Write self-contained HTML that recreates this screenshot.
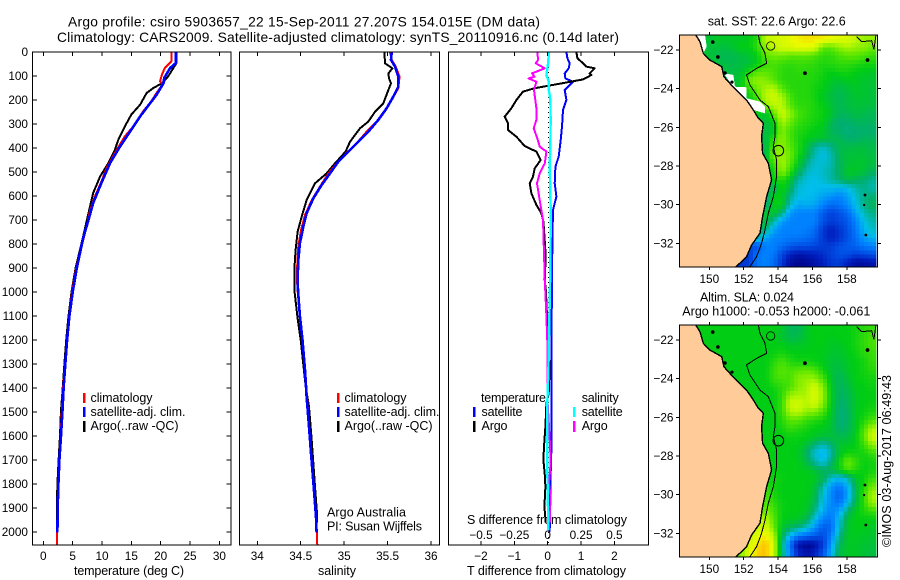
<!DOCTYPE html>
<html lang="en">
<head>
<meta charset="utf-8">
<title>Argo profile chart</title>
<style>
html,body{margin:0;padding:0;background:#fff;}
svg{display:block;}
text{font-family:"Liberation Sans",sans-serif;font-size:12.5px;fill:#000;}
.tick{font-size:11.8px;}
</style>
</head>
<body>
<svg id="chart" width="900" height="580" viewBox="0 0 900 580" xmlns="http://www.w3.org/2000/svg">
<rect width="900" height="580" fill="#fff"/>
<text x="68" y="26.5" style="font-size:13.8px" textLength="472">Argo profile: csiro 5903657_22 15-Sep-2011 27.207S 154.015E (DM data)</text>
<text x="57" y="42" style="font-size:13.8px" textLength="562">Climatology: CARS2009. Satellite-adjusted climatology: synTS_20110916.nc (0.14d later)</text>
<text x="74" y="575" textLength="110">temperature (deg C)</text>
<text x="318" y="575" textLength="38">salinity</text>
<text x="467" y="575" textLength="159">T difference from climatology</text>
<text x="467" y="524" textLength="160">S difference from climatology</text>
<text x="327" y="516.5" textLength="79">Argo Australia</text>
<text x="327" y="530.5" textLength="95">PI: Susan Wijffels</text>
<text x="707.7" y="25.5" textLength="138">sat. SST: 22.6 Argo: 22.6</text>
<text x="700" y="301.5" textLength="94">Altim. SLA: 0.024</text>
<text x="682.3" y="315.5" textLength="188">Argo h1000: -0.053 h2000: -0.061</text>
<text transform="translate(891 547) rotate(-90)" x="0" y="0" textLength="172">©IMOS 03-Aug-2017 06:49:43</text>
<g id="layer"></g>
</svg>
<script>
// ---------- Profile data ----------
const tempClimDepth = [0,39,67,94,122,136,171,212,247,303,351,421,483,539,601,657,754,900,1000,1100,1200,1300,1400,1500,1600,1700,1800,1900,2000,2055];
const tempClimValue = [21.8,21.8,20.7,20.2,19.9,20.3,19.3,18.2,17,15.6,13.9,12.2,10.8,9.9,8.8,8,7.1,5.6,4.9,4.4,4,3.7,3.35,3.15,2.95,2.7,2.55,2.45,2.35,2.3];
const tempSatDepth = [0,46,67,108,129,178,233,268,331,393,462,546,629,699,775,900,1000,1100,1200,1300,1400,1500,1600,1700,1800,1900,2003];
const tempSatValue = [22.6,22.6,21.6,20.6,20.5,19.3,17.6,16.5,14.8,13.1,11.4,9.9,8.5,7.7,6.8,5.7,5,4.45,4.05,3.75,3.45,3.25,3.02,2.75,2.58,2.45,2.4];
const tempArgoDepth = [0,46,101,129,150,171,219,261,310,365,407,462,518,587,671,768,900,1000,1100,1200,1300,1400,1500,1600,1700,1800,1900,1960];
const tempArgoValue = [22.7,22.7,21.3,20.3,18.75,17.6,16.5,15,13.9,12.8,12.2,11.1,9.7,8.5,7.7,6.8,5.5,4.8,4.3,3.9,3.6,3.3,3,2.85,2.6,2.4,2.3,2.3];

const salClimDepth = [0,33,61,103,151,200,242,290,332,388,419,464,506,561,617,679,742,811,874,950,1000,1100,1200,1325,1436,1561,1672,1811,1936,2055];
const salClimValue = [35.528,35.547,35.593,35.639,35.624,35.547,35.47,35.374,35.259,35.125,35.029,34.914,34.818,34.722,34.626,34.549,34.503,34.472,34.461,34.457,34.465,34.49,34.52,34.553,34.572,34.598,34.622,34.652,34.678,34.691];
const salSatDepth = [0,33,61,103,144,186,235,283,332,381,422,457,506,554,610,672,728,797,867,950,1000,1100,1200,1325,1436,1561,1672,1811,1936,2003];
const salSatValue = [35.547,35.54,35.586,35.624,35.624,35.566,35.489,35.393,35.278,35.144,35.029,34.933,34.837,34.741,34.645,34.568,34.53,34.491,34.472,34.464,34.47,34.49,34.52,34.549,34.568,34.595,34.618,34.649,34.676,34.683];
const salArgoDepth = [0,47,68,89,110,131,158,214,249,290,318,374,415,464,506,547,617,686,749,825,908,1000,1100,1200,1325,1394,1478,1617,1811,1922,1960];
const salArgoValue = [35.463,35.47,35.555,35.509,35.516,35.539,35.509,35.451,35.355,35.278,35.182,35.067,35.017,34.894,34.798,34.664,34.568,34.511,34.464,34.441,34.426,34.43,34.46,34.5,34.537,34.557,34.595,34.626,34.664,34.687,34.69];

const diffTempSatDepth = [0,26,47,68,89,110,124,138,158,200,242,311,367,436,478,547,603,658,783,950,1100,1325,1464,1651,1800,2000];
const diffTempSatValue = [0.56,0.59,0.66,0.63,0.51,0.53,0.76,0.66,0.51,0.56,0.46,0.43,0.39,0.33,0.23,0.21,0.26,0.16,0.14,0.13,0.12,0.11,0.11,0.11,0.08,0.06];
const diffTempArgoDepth = [0,26,47,61,68,89,96,114,131,151,165,200,235,269,297,325,353,392,415,450,485,519,547,589,637,672,707,783,853,950,1000,1100,1200,1325,1422,1464,1561,1644,1700,1756,1811,1894,1960];
const diffTempArgoValue = [0.86,0.89,1.06,1.16,1.41,1.26,1.31,1.06,0.41,-0.39,-0.74,-0.94,-1.09,-1.29,-1.19,-1.19,-0.94,-0.69,-0.34,-0.21,-0.39,-0.44,-0.54,-0.49,-0.34,-0.19,-0.13,-0.09,-0.06,-0.09,-0.05,-0.02,0.02,0.06,0.03,-0.04,-0.07,-0.11,-0.13,-0.09,-0.07,-0.1,-0.06];
const diffSalArgoDepth = [0,33,47,68,89,103,110,124,158,200,235,283,318,360,394,415,464,506,547,617,700,839,950,1100,1250,1464,1644,1714,1797,1853,1908,1960];
const diffSalArgoValue = [-0.078,-0.072,-0.09,-0.022,-0.118,-0.098,-0.143,-0.085,-0.103,-0.093,-0.085,-0.085,-0.105,-0.078,-0.06,-0.01,-0.022,-0.06,-0.08,-0.06,-0.035,-0.028,-0.022,-0.01,0,0,0.018,0.022,0.01,0.022,0.018,0.018];
const diffSalSatDepth = [0,47,96,124,158,200,283,394,464,547,644,756,950,1325,1464,1742,1992];
const diffSalSatValue = [0.01,0.003,-0.01,0.008,0.008,0.02,0.022,0.02,0.015,0.018,0.022,0.022,0.018,0.005,-0.003,-0.003,0.005];

// ---------- Tick values ----------
const depthTicks = [0,100,200,300,400,500,600,700,800,900,1000,1100,1200,1300,1400,1500,1600,1700,1800,1900,2000];
const tempTicks = [0,5,10,15,20,25,30];
const salTicks = [34,34.5,35,35.5,36];
const salTickLabels = ['34','34.5','35','35.5','36'];
const diffTempTicks = [-2,-1,0,1,2];
const diffTempLabels = ['−2','−1','0','1','2'];
const diffSalTicks = [-0.5,-0.25,0,0.25,0.5];
const diffSalLabels = ['−0.5','−0.25','0','0.25','0.5'];
const lonTicks = [150,152,154,156,158];
const latTicks = [-22,-24,-26,-28,-30,-32];
const latLabels = ['−22','−24','−26','−28','−30','−32'];

// ---------- Map data (colour scale 0 navy .. 6 green .. 10 orange) ----------
const sstGrid = [
[6,6,6,5.6,5.8,5.8,5.8,5.8,6,6.4,8,8.3,8.5,8.8,9.2,9.4,9.4,9.2,9,8.7,8.6,8.1,7.6,7.6],
[6,6,6,5.5,5.6,5.5,5.7,6,6,6.5,7.6,8,8.4,8.6,8.8,8.8,8.6,7,7,7.5,7.8,7.6,7.5,7.2],
[6,6,6,5.6,5.5,5.3,5.3,5.5,5.7,6,7,7.2,7.2,7,7,7,6.8,6.5,6.5,6.8,7,7,6.8,6.6],
[6,6,6,6,5.5,5.5,5.4,5.5,5.6,6,6.6,6.8,6.6,6.5,6.6,6.6,6.5,6.3,6.4,6.5,6.5,6.4,6.2,6.2],
[6,6,6,6,6,5.5,5.5,5.6,6.3,7,7,6.8,6.5,6.4,6.5,6.4,6.4,6.2,6,6.2,6.2,6,5.9,5.8],
[6,6,6,6,6,5.5,5.5,5.8,7.3,7.6,7.4,7,6.5,6.4,6.4,6.4,6.3,6.1,5.8,5.7,5.9,5.9,5.7,5.7],
[6,6,6,6,6,6,5.5,6,6.5,7.2,7.8,8,7,6.5,6.4,6.4,6.2,6,5.6,5.4,5.6,5.8,5.7,5.6],
[6,6,6,6,6,6,6,5.8,6,6.8,8,8.2,7.8,6.8,6.4,6.4,6.2,5.8,5.5,5.3,5.5,5.7,5.7,5.6],
[6,6,6,6,6,6,6,6,6,6.5,7.5,8,8,7,6.5,6.5,6.3,6,5.6,5.3,5.5,5.6,5.6,5.5],
[6,6,6,6,6,6,6,6,6,6,5.6,7,8.2,7.6,6.8,6.5,6.3,6.1,5.7,5.2,5.3,5.5,5.4,5.3],
[6,6,6,6,6,6,6,6,6,6,5.5,6,7.8,7.2,6.6,6.4,6.2,6,5.3,5,5,5.2,5.2,5.2],
[6,6,6,6,6,6,6,6,6,6,5.4,5.8,7.4,6.8,6.4,6.2,6,5.8,5.2,5,4.9,5,5,5],
[6,6,6,6,6,6,6,6,6,6,5.3,6.6,7.5,6.8,6.3,6,5.8,5.7,5.4,5.3,5,5,5.2,5.2],
[6,6,6,6,6,6,6,6,6,6,5.2,7,7.5,7,6.4,5.6,4.7,4.3,4.8,5.4,5.4,5.5,5.5,5.4],
[6,6,6,6,6,6,6,6,6,6,5,7.6,7.6,7.2,6.3,5.4,4.5,4,4.5,5.3,5.6,5.6,5.6,5.5],
[6,6,6,6,6,6,6,6,6,6,6,6.5,7.8,7,6,4.8,4.2,4.2,4.5,5.2,5.6,5.7,5.7,5.5],
[6,6,6,6,6,6,6,6,6,6,6,6,7.6,6.6,5.4,4.4,4.1,4.3,4.6,5.2,5.8,5.8,5.6,5.2],
[6,6,6,6,6,6,6,6,6,6,6,6,6.4,5.8,4.6,4.1,4,4.2,4.6,5,5.4,5.2,5,4.7],
[6,6,6,6,6,6,6,6,6,6,6,5,6.2,5.4,4.2,4,4,3.9,3.9,3.8,4,4.5,4.8,4.5],
[6,6,6,6,6,6,6,6,6,6,4.5,6,6,4.8,4.1,4,3.9,3.5,3.3,3,3.5,4.2,4.8,5],
[6,6,6,6,6,6,6,6,6,6,4.8,6,6,4.4,3.6,3.7,3.6,3,2.5,2.7,3.2,4,4.8,5.2],
[6,6,6,6,6,6,6,6,6,6,5.6,5.8,5,3.4,3,3,3,2.2,1.7,2,2.5,3.5,4.4,4.8],
[6,6,6,6,6,6,6,6,6,5.5,5.5,4.6,3.4,3,3,3,3,2,1.6,1.8,2.2,3,4,4.5],
[6,6,6,6,6,6,6,6,6,5.2,5,3.6,3,3,3,2.9,2.6,1.5,1,1.4,2,2.8,3.8,4.3],
[6,6,6,6,6,6,6,6,4.5,4.5,3.5,3,3,2.8,2.8,2.6,2.3,1.5,1,1.4,2,2.6,3.4,3.8],
[6,6,6,6,6,6,6,6,2,2,3,3,2.6,2.2,2,2,1.8,1.6,1.6,2,2.2,2.4,2.8,3],
[6,6,6,6,6,6,6,1.5,1.5,2.8,3,2.8,1.8,1,0.7,0.8,1,1.3,1.7,2,2,1.6,1.8,2],
[6,6,6,6,6,6,1,1.5,1.6,2.8,3,2.6,1.5,0.5,0.2,0.3,0.6,1,1.5,1.6,1,0.5,0.5,0.7]
];
const slaGrid = [
[6,6,6,6,6,6,6,6,6,6,6,6,5.8,5.3,5.2,5.8,6,6,6,6,6,6.2,6.4,6.6],
[6,6,6,6,6,6,6,6,6,6,6,6,5.7,5.4,5.4,5.8,6,6,5.9,6,6,6.2,6.5,6.8],
[6,6,6,6,6,6,6,6,6,6,6,6,6,5.8,5.8,5.9,6,6,5.8,5.8,6,6.2,6.5,6.8],
[6,6,6,6,6,6,6,6,6,6,6,6.1,6.3,6.1,6,6,6,5.9,5.7,5.7,5.9,6.1,6.4,6.6],
[6,6,6,6,6,6,6,6,6,6,6,6.4,6.8,6.4,6.2,6.2,6.1,5.9,5.6,5.6,5.8,6,6.2,6.6],
[6,6,6,6,6,6,6,6,6,6,6,6.6,7,6.8,7,7.1,6.9,6.2,5.6,5.4,5.8,6,6.2,6.4],
[6,6,6,6,6,6,6,6,6,6,6,6.6,6.8,6.8,7.4,7.6,7.6,6.8,5.7,5.2,5.6,6,6.1,6.2],
[6,6,6,6,6,6,6,6,6,6,6,6.2,6.5,6.8,7.4,7.7,8.4,7.4,5.8,5.2,5.4,5.9,6,6.1],
[6,6,6,6,6,6,6,6,6,6,6,6,6.5,7.6,7.8,7.8,8.6,7.6,5.9,5.1,5.3,5.8,6,6],
[6,6,6,6,6,6,6,6,6,6,6,6,6.6,8.2,8.4,7.9,8.4,7.4,5.9,5,5.2,5.8,6,6.1],
[6,6,6,6,6,6,6,6,6,6,6,6,6.6,7.8,8,7.5,7.4,6.8,5.8,4.9,5.1,5.8,6.1,6.3],
[6,6,6,6,6,6,6,6,6,6,6,6,6.4,7,7,6.6,6.4,6.2,5.7,4.9,5.1,5.8,6.3,6.8],
[6,6,6,6,6,6,6,6,6,6,6,6,6.2,6.6,6.4,6.2,6,5.9,5.6,5,5.2,5.8,6.8,7.8],
[6,6,6,6,6,6,6,6,6,6,6,6,6,6.1,6.1,6,5.8,5.6,5.6,5.4,5.5,5.9,7,8.3],
[6,6,6,6,6,6,6,6,6,6,6,6,6,6,6,5.6,4.9,4.4,5,5.7,5.8,6,6.6,7.5],
[6,6,6,6,6,6,6,6,6,6,6,6,6,6,5.9,5.1,4.2,3.7,4.5,5.8,6.2,6.2,6.2,6.6],
[6,6,6,6,6,6,6,6,6,6,6,6,6,6,6,5.4,4.6,4,5,6.1,7.2,6.6,6.1,6.2],
[6,6,6,6,6,6,6,6,6,6,6,6,6,6,6,5.9,5.6,5.1,5.4,6,6.8,6.4,6,6.2],
[6,6,6,6,6,6,6,6,6,6,6,6.2,6.1,6,6,6,5.9,5.3,4.3,3.9,4.5,5.7,6.1,6.6],
[6,6,6,6,6,6,6,6,6,6,6.4,6.2,6,6,6,6,5.7,4.5,3.3,2.8,3.7,5.3,6.3,7.2],
[6,6,6,6,6,6,6,6,6,6,6.8,6.3,6,6,6,6,5.5,4.1,3.1,2.3,3.5,5.2,6.6,7.8],
[6,6,6,6,6,6,6,6,6,6,7,6.5,6.1,6,6,5.9,5.3,3.9,3.1,2.7,3.9,5.4,6.5,7.6],
[6,6,6,6,6,6,6,6,6,6,7.4,6.8,6.1,6,6,5.8,4.8,3.6,3,3.5,5,5.9,6.3,6.6],
[6,6,6,6,6,6,6,6,6,7.8,8,7,6,5.9,5.8,5.3,4.1,2.9,2.7,4.1,5.6,6,6,6],
[6,6,6,6,6,6,6,6,7.2,8.2,8.6,7.2,5.8,5.2,4.8,4.2,3.3,2.2,2.5,4.3,5.7,6,5.9,5.8],
[6,6,6,6,6,6,6,6,7.8,8.8,9.2,8,5.4,3.8,2.9,2.5,2.1,1.9,2.9,4.8,5.8,5.9,5.8,5.7],
[6,6,6,6,6,6,6,7,8.5,9.4,10,8.5,5,2.7,0.6,0.2,0.5,1.5,3.4,5.2,5.8,5.8,5.7,5.6],
[6,6,6,6,6,6,6,7.4,8.7,9.6,10,8.4,5.2,3,1.2,0.6,1,2.1,3.8,5.4,5.8,5.8,5.6,5.5]
];
const coastLon = [149.21,149.46,149.65,150.04,150.72,150.85,151.40,152.17,152.56,152.85,153.14,153.04,153.10,153.43,153.62,153.33,153.10,152.95,152.46,152.17,151.55];
const coastLat = [-21.22,-21.57,-22.17,-22.52,-22.86,-23.38,-23.93,-24.59,-25.10,-25.53,-25.79,-26.48,-27.34,-27.86,-28.72,-29.59,-30.62,-31.48,-32.09,-32.69,-33.22];
const contourLon = [152.85,152.95,153.24,153.33,152.75,152.17,152.36,152.95,153.43,153.82,153.82,153.72,153.91,153.91,153.72,153.43,153.24,153.04,152.75,152.36];
const contourLat = [-21.22,-21.66,-22.17,-22.69,-22.95,-23.29,-23.81,-24.59,-24.93,-25.79,-26.48,-27,-27.69,-28.55,-29.59,-30.45,-31.31,-32,-32.69,-33.22];
const contour2Lon = [158.57,158.86,159.44,159.57,159.69];
const contour2Lat = [-21.31,-21.57,-21.52,-21.97,-21.22];
const gapLon = [150.85,151.40,151.49,152.17,152.17,152.95,153.24,153.24,152.56,151.40];
const gapLat = [-23.21,-23.29,-23.90,-23.93,-24.5,-24.67,-24.93,-25.28,-25.10,-23.93];
const gap2Lon = [149.26,149.75,149.85,149.65];
const gap2Lat = [-21.22,-21.22,-21.83,-22.17];
const islandLon = [155.56,159.2,159.05,159.0,159.1,153.57,150.2,150.5,150.91,151.32];
const islandLat = [-23.2,-22.52,-29.5,-30.02,-31.57,-21.79,-21.59,-22.36,-23.19,-23.66];
const islandRadius = [1.5,1.5,1,0.8,1,4.2,1.4,1.4,1.4,1.2];
const argoLon = 154.015;
const argoLat = -27.207;

// ---------- Scales ----------
const NS = 'http://www.w3.org/2000/svg';
const layer = document.getElementById('layer');
const yDepth = d => 52 + d * 0.24;
const xTemp = v => 43.3 + v * 5.87;
const xSal = v => 257.3 + (v - 34) * 86.85;
const xDiffT = v => 547.7 + v * 33.35;
const xDiffS = v => 547.7 + v * 133.4;
const xLon = v => 709.3 + (v - 150) * 17.2;
const ySst = v => 50 + (-22 - v) * 19.33;
const ySla = v => 340 + (-22 - v) * 19.33;

function add(parent, tag, props, txt) {
  const el = document.createElementNS(NS, tag);
  for (const k in props) el.setAttribute(k, props[k]);
  if (txt !== undefined) el.textContent = txt;
  parent.appendChild(el);
  return el;
}
function pathOf(xs, ys) {
  return xs.map((x, i) => (i ? 'L' : 'M') + x.toFixed(1) + ' ' + ys[i].toFixed(1)).join('');
}
function drawSeries(name, depths, vals, xf, color, w) {
  const p = add(layer, 'path', {d: pathOf(vals.map(xf), depths.map(yDepth)), fill: 'none', stroke: color, 'stroke-width': w, 'stroke-linejoin': 'round', 'shape-rendering': 'crispEdges'});
  
  
}
function drawFrame(name, x, y, w, h) {
  const r = add(layer, 'rect', {x: x, y: y, width: w, height: h, fill: 'none', stroke: '#000', 'stroke-width': 1, 'shape-rendering': 'crispEdges'});
  
  
}
function tickLine(x1, y1, x2, y2) {
  const l = add(layer, 'line', {x1: x1, y1: y1, x2: x2, y2: y2, stroke: '#000', 'stroke-width': 1, 'shape-rendering': 'crispEdges'});
  
  
}
function tickLabel(x, y, s, anchor) {
  const t = add(layer, 'text', {x: x, y: y, 'text-anchor': anchor, class: 'tick'}, s);
  
  
}
function legendMark(x, y1, y2, color) {
  const l = add(layer, 'rect', {x: x - 1, y: y1, width: 2.4, height: y2 - y1, fill: color, 'shape-rendering': 'crispEdges'});
  
  
}
function legendText(x, y, s, len) {
  const t = add(layer, 'text', {x: x, y: y, textLength: len}, s);
  
  
}

// ---------- Temperature panel ----------
drawSeries('argo-temperature-line', tempArgoDepth, tempArgoValue, xTemp, '#000', 2);
drawSeries('climatology-temperature-line', tempClimDepth, tempClimValue, xTemp, '#f00', 2);
drawSeries('satellite-temperature-line', tempSatDepth, tempSatValue, xTemp, '#00f', 2.6);
drawFrame('temperature-panel-frame', 32.5, 52, 198.5, 493);
depthTicks.forEach(d => {
  tickLine(32.5, yDepth(d), 37, yDepth(d));
  tickLine(226.5, yDepth(d), 231, yDepth(d));
  tickLabel(28, yDepth(d) + 4, String(d), 'end');
});
tempTicks.forEach(v => {
  tickLine(xTemp(v), 52, xTemp(v), 56);
  tickLine(xTemp(v), 541, xTemp(v), 545);
  tickLabel(xTemp(v), 560, String(v), 'middle');
});
legendMark(84, 393, 403, '#f00');
legendMark(84, 407, 417, '#00f');
legendMark(84, 421, 432, '#000');
legendText(90.5, 402, 'climatology', 62);
legendText(90.5, 416, 'satellite-adj. clim.', 95);
legendText(90.5, 430, 'Argo(..raw -QC)', 88);

// ---------- Salinity panel ----------
drawSeries('argo-salinity-line', salArgoDepth, salArgoValue, xSal, '#000', 2);
drawSeries('climatology-salinity-line', salClimDepth, salClimValue, xSal, '#f00', 2);
drawSeries('satellite-salinity-line', salSatDepth, salSatValue, xSal, '#00f', 2.6);
drawFrame('salinity-panel-frame', 239.5, 52, 199.8, 493);
salTicks.forEach((v, i) => {
  tickLine(xSal(v), 52, xSal(v), 56);
  tickLine(xSal(v), 541, xSal(v), 545);
  tickLabel(xSal(v), 560, salTickLabels[i], 'middle');
});
legendMark(338, 393, 403, '#f00');
legendMark(338, 407, 417, '#00f');
legendMark(338, 421, 432, '#000');
legendText(344.5, 402, 'climatology', 62);
legendText(344.5, 416, 'satellite-adj. clim.', 95);
legendText(344.5, 430, 'Argo(..raw -QC)', 88);

// ---------- Difference panel ----------
const zero = add(layer, 'line', {x1: xDiffT(0) + 1, y1: 52, x2: xDiffT(0) + 1, y2: 545, stroke: '#000', 'stroke-width': 1, 'stroke-dasharray': '1 4', 'shape-rendering': 'crispEdges'});


drawSeries('satellite-t-difference-line', diffTempSatDepth, diffTempSatValue, xDiffT, '#00f', 2);
drawSeries('argo-t-difference-line', diffTempArgoDepth, diffTempArgoValue, xDiffT, '#000', 2);
drawSeries('argo-s-difference-line', diffSalArgoDepth, diffSalArgoValue, xDiffS, '#f0f', 2);
drawSeries('satellite-s-difference-line', diffSalSatDepth, diffSalSatValue, xDiffS, '#0ff', 2.4);
drawFrame('difference-panel-frame', 448.5, 52, 200.2, 493);
diffTempTicks.forEach((v, i) => {
  tickLine(xDiffT(v), 52, xDiffT(v), 56);
  tickLine(xDiffT(v), 541, xDiffT(v), 545);
  tickLabel(xDiffT(v), 560, diffTempLabels[i], 'middle');
});
diffSalTicks.forEach((v, i) => {
  tickLabel(xDiffS(v), 539, diffSalLabels[i], 'middle');
});
legendMark(474, 407, 417, '#00f');
legendMark(474, 421, 432, '#000');
legendMark(574, 407, 417, '#0ff');
legendMark(574, 421, 432, '#f0f');
legendText(481, 402, 'temperature', 65);
legendText(481.5, 416, 'satellite', 41);
legendText(481.5, 430, 'Argo', 26);
legendText(581.7, 402, 'salinity', 37);
legendText(581.7, 416, 'satellite', 41);
legendText(581.7, 430, 'Argo', 26);

// ---------- Maps ----------
const stops = [[0,0,130],[0,30,190],[0,80,230],[0,130,255],[0,190,235],[0,175,110],[0,205,20],[90,230,0],[190,248,0],[238,250,0],[255,190,0]];
function colorOf(v) {
  const c = Math.max(0, Math.min(10, v));
  const i = Math.min(9, Math.floor(c));
  const f = c - i;
  const a = stops[i], b = stops[i + 1];
  return 'rgb(' + [0, 1, 2].map(k => Math.round(a[k] + (b[k] - a[k]) * f)).join(',') + ')';
}
function sample(grid, r, c) {
  const r0 = Math.floor(r), c0 = Math.floor(c);
  const r1 = Math.min(grid.length - 1, r0 + 1), c1 = Math.min(grid[0].length - 1, c0 + 1);
  const fr = r - r0, fc = c - c0;
  return (grid[r0][c0] * (1 - fc) + grid[r0][c1] * fc) * (1 - fr) + (grid[r1][c0] * (1 - fc) + grid[r1][c1] * fc) * fr;
}
function drawMap(prefix, grid, yLat, top, showGaps) {
  const g = add(layer, 'g', {});
  
  
  const rows = grid.length, cols = grid[0].length;
  const lonMin = 148.25, lonMax = 159.7, latTop = -21.22, latBot = -33.22;
  const dLon = (lonMax - lonMin) / (cols * 2), dLat = (latTop - latBot) / (rows * 2);
  for (let r = 0; r < rows * 2; r++) {
    for (let c = 0; c < cols * 2; c++) {
      const gr = Math.max(0, Math.min(rows - 1, (r - 0.5) / 2));
      const gc = Math.max(0, Math.min(cols - 1, (c - 0.5) / 2));
      const x0 = xLon(lonMin + c * dLon), x1 = xLon(lonMin + (c + 1) * dLon);
      const y0 = yLat(latTop - r * dLat), y1 = yLat(latTop - (r + 1) * dLat);
      const cell = add(g, 'rect', {x: x0.toFixed(2), y: y0.toFixed(2), width: (x1 - x0 + 0.3).toFixed(2), height: (y1 - y0 + 0.3).toFixed(2), fill: colorOf(sample(grid, gr, gc)), 'shape-rendering': 'crispEdges'});
      
      
    }
  }
  if (showGaps) {
    [[gapLon, gapLat], [gap2Lon, gap2Lat]].forEach(pair => {
      const gp = add(layer, 'path', {d: pathOf(pair[0].map(xLon), pair[1].map(yLat)) + 'Z', fill: '#fff', 'shape-rendering': 'crispEdges'});
      
      
    });
  }
  const landXs = coastLon.map(xLon), landYs = coastLat.map(yLat);
  const land = add(layer, 'path', {d: pathOf(landXs, landYs) + 'L679.3 ' + (top + 232) + 'L679.3 ' + top + 'Z', fill: '#ffcc99', 'shape-rendering': 'crispEdges'});
  
  
  const coast = add(layer, 'path', {d: pathOf(landXs, landYs), fill: 'none', stroke: '#000', 'stroke-width': 1.4, 'shape-rendering': 'crispEdges'});
  
  
  const ct = add(layer, 'path', {d: pathOf(contourLon.map(xLon), contourLat.map(yLat)), fill: 'none', stroke: '#000', 'stroke-width': 1, 'shape-rendering': 'crispEdges'});
  
  
  const ct2 = add(layer, 'path', {d: pathOf(contour2Lon.map(xLon), contour2Lat.map(yLat)), fill: 'none', stroke: '#000', 'stroke-width': 1, 'shape-rendering': 'crispEdges'});
  
  
  islandLon.forEach((lon, i) => {
    const isl = add(layer, 'circle', {cx: xLon(lon), cy: yLat(islandLat[i]), r: islandRadius[i], fill: i === 5 ? 'none' : '#000', stroke: '#000', 'stroke-width': 0.8});
    
    
  });
  const argo = add(layer, 'circle', {cx: xLon(argoLon), cy: yLat(argoLat), r: 5.3, fill: 'none', stroke: '#000', 'stroke-width': 1});
  
  
  drawFrame(prefix + '-map-frame', 679.3, top, 198, 232);
  lonTicks.forEach(v => {
    tickLine(xLon(v), top - 3, xLon(v), top);
    tickLine(xLon(v), top + 232, xLon(v), top + 235);
    tickLabel(xLon(v), top + 248, String(v), 'middle');
  });
  latTicks.forEach((v, i) => {
    tickLine(676, yLat(v), 679.3, yLat(v));
    tickLine(877.3, yLat(v), 881, yLat(v));
    tickLabel(673.5, yLat(v) + 4, latLabels[i], 'end');
  });
}
drawMap('sst', sstGrid, ySst, 35, true);
drawMap('sla', slaGrid, ySla, 325, false);
</script>
</body>
</html>
